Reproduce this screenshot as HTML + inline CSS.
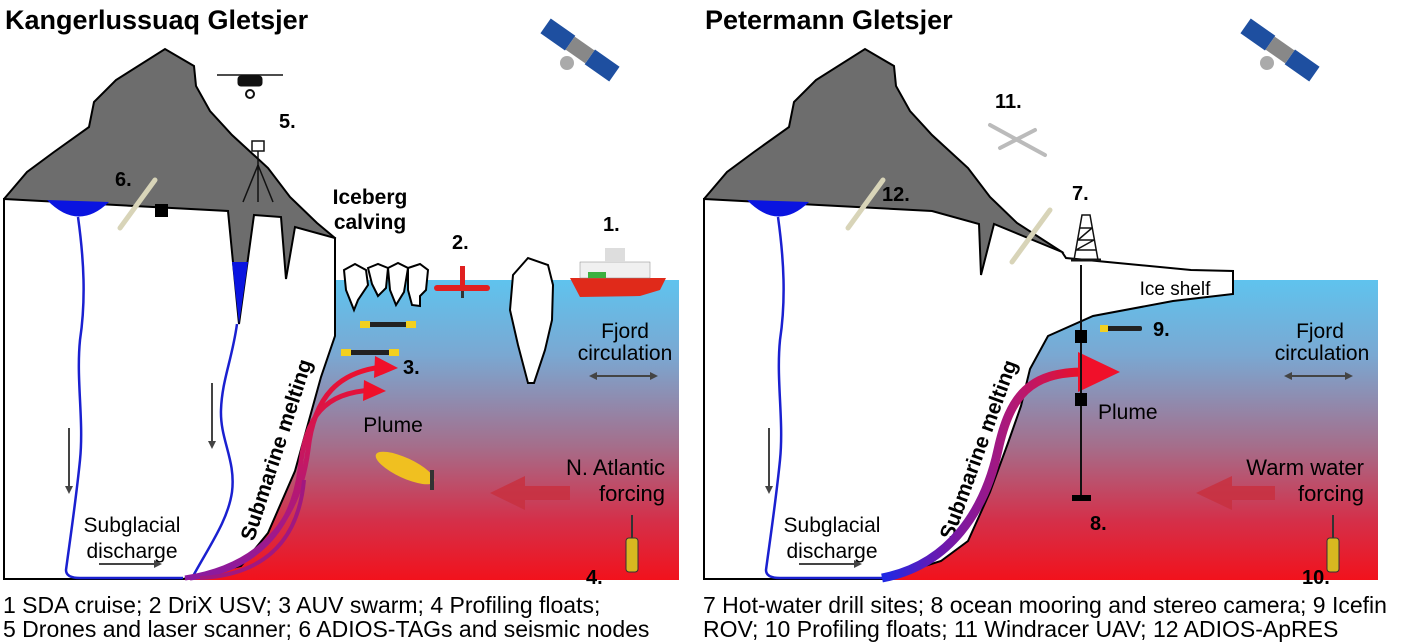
<!DOCTYPE html>
<html><head><meta charset="utf-8"><style>
html,body{margin:0;padding:0;background:#fff;}
svg{display:block;font-family:"Liberation Sans",Arial,sans-serif;}
</style></head><body>
<svg width="1403" height="643" viewBox="0 0 1403 643" xmlns="http://www.w3.org/2000/svg">
<defs>
<linearGradient id="water" x1="0" y1="280" x2="0" y2="580" gradientUnits="userSpaceOnUse">
<stop offset="0" stop-color="#5fc3ee"/><stop offset="0.25" stop-color="#7aa8d2"/>
<stop offset="0.55" stop-color="#a46f8c"/><stop offset="0.8" stop-color="#d4304a"/><stop offset="1" stop-color="#f2121c"/>
</linearGradient>
<linearGradient id="plL" x1="0" y1="578" x2="0" y2="360" gradientUnits="userSpaceOnUse">
<stop offset="0" stop-color="#8a1aa0"/><stop offset="0.5" stop-color="#c01868"/><stop offset="1" stop-color="#f0102a"/>
</linearGradient>
<linearGradient id="plR" x1="880" y1="0" x2="1080" y2="0" gradientUnits="userSpaceOnUse">
<stop offset="0" stop-color="#1a2ae8"/><stop offset="0.3" stop-color="#6a18b0"/><stop offset="0.7" stop-color="#b81870"/><stop offset="1" stop-color="#e8102a"/>
</linearGradient>
<marker id="ah" markerWidth="8" markerHeight="8" refX="6" refY="4" orient="auto" markerUnits="userSpaceOnUse"><path d="M0,0 L8,4 L0,8 Z" fill="#444"/></marker>
</defs>

<!-- ================= LEFT ================= -->
<text x="5" y="29" font-size="27" font-weight="bold">Kangerlussuaq Gletsjer</text>
<rect x="180" y="280" width="499" height="300" fill="url(#water)"/>
<polygon points="4,199 27,172 54,152 89,127 94,102 116,80 165,49 194,66 196,86 210,111 232,135 268,168 290,197 317,223 335,238 290,300 239,330 4,210" fill="#6d6d6d" stroke="#000" stroke-width="2"/>
<polygon points="4,199 228,211 239,324 254,215 281,217 286,279 295,227 335,238 335,336 321,377 295,471 268,533 241,566 183,579 4,579" fill="#fff" stroke="#000" stroke-width="2"/>
<polygon points="232,262 248,262 239,324" fill="#0a14e0"/>
<path d="M47,200 Q78,232 109,202 Z" fill="#0a14e0"/>
<path d="M78,217 C84,260 86,300 80,340 C76,380 84,420 80,460 C76,500 70,540 66,570 Q66,578 80,578 L183,578" fill="none" stroke="#1a20d0" stroke-width="2.5"/>
<path d="M237,324 C232,360 222,380 221,410 C220,440 236,460 232,492 C228,520 210,545 192,578" fill="none" stroke="#1a20d0" stroke-width="2.5"/>
<line x1="69" y1="428" x2="69" y2="492" stroke="#444" stroke-width="2" marker-end="url(#ah)"/>
<line x1="212" y1="383" x2="212" y2="447" stroke="#444" stroke-width="2" marker-end="url(#ah)"/>
<text x="132" y="532" font-size="21" text-anchor="middle">Subglacial</text>
<text x="132" y="558" font-size="21" text-anchor="middle">discharge</text>
<line x1="99" y1="564" x2="160" y2="564" stroke="#444" stroke-width="2" marker-end="url(#ah)"/>
<text x="0" y="0" font-size="21" font-weight="bold" transform="translate(283,452) rotate(-72)" text-anchor="middle">Submarine melting</text>
<rect x="155" y="204" width="13" height="13" fill="#000"/>
<path d="M185,578 C270,565 300,510 308,450 C314,395 340,372 382,367" fill="none" stroke="url(#plL)" stroke-width="5"/>
<path d="M190,578 C255,570 292,530 300,470 C305,415 325,393 372,390" fill="none" stroke="url(#plL)" stroke-width="5"/>
<path d="M200,578 C260,575 298,545 304,480" fill="none" stroke="#a01880" stroke-width="4"/>
<polygon points="375,356 398,368 374,378" fill="#f0102a"/>
<polygon points="364,380 386,391 363,401" fill="#f0102a"/>
<text x="393" y="432" font-size="21" text-anchor="middle">Plume</text>
<g fill="#fff" stroke="#000" stroke-width="2">
<path d="M344,270 L355,264 L366,270 L368,285 L358,300 L354,310 L346,290 Z"/>
<path d="M368,268 L378,264 L388,268 L386,288 L378,296 L372,284 Z"/>
<path d="M388,268 L398,263 L408,268 L404,292 L396,305 L390,290 Z"/>
<path d="M408,268 L420,264 L428,270 L426,290 L420,296 L420,306 L412,305 L408,290 Z"/>
<path d="M513,275 L528,258 L548,265 L553,285 L552,320 L545,350 L534,383 L528,383 L518,345 L510,310 Z"/>
</g>
<rect x="434" y="285" width="56" height="6" rx="3" fill="#e02020"/>
<rect x="460" y="266" width="5" height="20" fill="#e02020"/>
<rect x="461" y="291" width="3" height="7" fill="#333"/>
<path d="M570,278 L666,278 L660,290 L640,296 L580,297 Z" fill="#e02a1a"/>
<rect x="580" y="262" width="70" height="16" fill="#f0f0f0" stroke="#888" stroke-width="0.5"/>
<rect x="605" y="248" width="20" height="14" fill="#ddd"/>
<rect x="588" y="272" width="18" height="6" fill="#3cb040"/>
<rect x="360" y="322" width="56" height="5" rx="2" fill="#222"/><rect x="360" y="321" width="10" height="7" fill="#f2d020"/><rect x="406" y="321" width="10" height="7" fill="#f2d020"/>
<rect x="341" y="350" width="58" height="5" rx="2" fill="#222"/><rect x="341" y="349" width="10" height="7" fill="#f2d020"/><rect x="389" y="349" width="10" height="7" fill="#f2d020"/>
<text x="403" y="374" font-size="20" font-weight="bold">3.</text>
<ellipse cx="405" cy="468" rx="32" ry="10" fill="#f0c020" transform="rotate(25 405 468)"/>
<rect x="430" y="470" width="4" height="20" fill="#333"/>
<text x="625" y="338" font-size="21" text-anchor="middle">Fjord</text>
<text x="625" y="360" font-size="21" text-anchor="middle">circulation</text>
<line x1="597" y1="376" x2="656" y2="376" stroke="#444" stroke-width="2" marker-end="url(#ah)"/>
<polygon points="597,372 589,376 597,380" fill="#444"/>
<text x="665" y="475" font-size="22" text-anchor="end">N. Atlantic</text>
<text x="665" y="501" font-size="22" text-anchor="end">forcing</text>
<polygon points="570,486 525,486 525,476 490,493 525,510 525,500 570,500" fill="#c83040" opacity="0.85"/>
<rect x="626" y="538" width="12" height="34" rx="3" fill="#d8b820" stroke="#333"/>
<line x1="632" y1="515" x2="632" y2="538" stroke="#333" stroke-width="2"/>
<text x="586" y="584" font-size="20" font-weight="bold">4.</text>
<text x="452" y="249" font-size="20" font-weight="bold">2.</text>
<text x="603" y="231" font-size="20" font-weight="bold">1.</text>
<text x="370" y="204" font-size="21" font-weight="bold" text-anchor="middle">Iceberg</text>
<text x="370" y="229" font-size="21" font-weight="bold" text-anchor="middle">calving</text>
<text x="279" y="128" font-size="20" font-weight="bold">5.</text>
<text x="115" y="186" font-size="20" font-weight="bold">6.</text>
<g stroke="#111" fill="#111">
<line x1="217" y1="75" x2="283" y2="75" stroke-width="1.5"/>
<rect x="238" y="76" width="24" height="10" rx="3"/>
<circle cx="250" cy="94" r="4" fill="#fff" stroke-width="2"/>
</g>
<g stroke="#111" fill="none" stroke-width="1.5">
<rect x="252" y="141" width="12" height="10" fill="#fff"/>
<line x1="258" y1="151" x2="258" y2="170"/><line x1="258" y1="165" x2="243" y2="202"/><line x1="258" y1="165" x2="273" y2="202"/><line x1="258" y1="165" x2="258" y2="202"/>
</g>
<line x1="120" y1="228" x2="155" y2="180" stroke="#d8d4b8" stroke-width="5" stroke-linecap="round"/>
<g transform="translate(580,50) rotate(35)">
<rect x="-42" y="-9" width="30" height="18" fill="#1e4fa0"/><rect x="12" y="-9" width="30" height="18" fill="#1e4fa0"/>
<rect x="-12" y="-8" width="24" height="16" fill="#888"/>
</g>
<circle cx="567" cy="63" r="7" fill="#aaa"/>

<!-- ================= RIGHT ================= -->
<text x="705" y="29" font-size="27" font-weight="bold">Petermann Gletsjer</text>
<rect x="880" y="280" width="498" height="300" fill="url(#water)"/>
<polygon points="704,199 727,172 754,152 789,127 794,102 816,80 865,49 894,66 896,86 910,111 932,135 968,168 990,197 1017,223 1062,252 1000,270 980,274 704,210" fill="#6d6d6d" stroke="#000" stroke-width="2"/>
<polygon points="704,199 932,211 979,224 981,275 994,224 1062,252 1066,258 1191,270 1233,271 1233,294 1173,301 1093,316 1048,336 1030,369 1021,406 1008,443 990,492 968,541 941,561 883,579 704,579" fill="#fff" stroke="#000" stroke-width="2"/>
<path d="M747,200 Q778,232 809,202 Z" fill="#0a14e0"/>
<path d="M778,217 C784,260 786,300 780,340 C776,380 784,420 780,460 C776,500 770,540 766,570 Q766,578 780,578 L890,578" fill="none" stroke="#1a20d0" stroke-width="2.5"/>
<line x1="769" y1="428" x2="769" y2="492" stroke="#444" stroke-width="2" marker-end="url(#ah)"/>
<text x="832" y="532" font-size="21" text-anchor="middle">Subglacial</text>
<text x="832" y="558" font-size="21" text-anchor="middle">discharge</text>
<line x1="799" y1="564" x2="860" y2="564" stroke="#444" stroke-width="2" marker-end="url(#ah)"/>
<text x="0" y="0" font-size="21" font-weight="bold" transform="translate(985,452) rotate(-70)" text-anchor="middle">Submarine melting</text>
<path d="M882,578 C950,565 985,510 998,450 C1010,395 1030,372 1085,372" fill="none" stroke="url(#plR)" stroke-width="9"/>
<polygon points="1078,352 1120,372 1078,392" fill="#f0102a"/>
<line x1="1081" y1="265" x2="1081" y2="498" stroke="#111" stroke-width="2"/>
<rect x="1075" y="330" width="12" height="13" fill="#000"/>
<rect x="1075" y="393" width="12" height="13" fill="#000"/>
<rect x="1072" y="495" width="19" height="6" fill="#000"/>
<text x="1090" y="530" font-size="20" font-weight="bold">8.</text>
<text x="1098" y="419" font-size="21">Plume</text>
<text x="1175" y="295" font-size="19" text-anchor="middle">Ice shelf</text>
<rect x="1100" y="326" width="42" height="5" rx="2" fill="#222"/><rect x="1100" y="325" width="8" height="7" fill="#f2d020"/>
<text x="1153" y="336" font-size="20" font-weight="bold">9.</text>
<text x="1320" y="338" font-size="21" text-anchor="middle">Fjord</text>
<text x="1322" y="360" font-size="21" text-anchor="middle">circulation</text>
<line x1="1292" y1="376" x2="1351" y2="376" stroke="#444" stroke-width="2" marker-end="url(#ah)"/>
<polygon points="1292,372 1284,376 1292,380" fill="#444"/>
<text x="1364" y="475" font-size="22" text-anchor="end">Warm water</text>
<text x="1364" y="501" font-size="22" text-anchor="end">forcing</text>
<polygon points="1275,486 1232,486 1232,476 1196,493 1232,510 1232,500 1275,500" fill="#c83040" opacity="0.85"/>
<rect x="1327" y="538" width="12" height="34" rx="3" fill="#d8b820" stroke="#333"/>
<line x1="1333" y1="515" x2="1333" y2="538" stroke="#333" stroke-width="2"/>
<text x="1302" y="584" font-size="20" font-weight="bold">10.</text>
<g stroke="#111" stroke-width="1.5" fill="none">
<path d="M1074,260 L1082,215 L1090,215 L1098,260"/>
<line x1="1071" y1="260" x2="1101" y2="260" stroke-width="3"/>
<path d="M1078,240 L1094,240 M1076,250 L1096,250 M1080,228 L1092,228 M1078,240 L1092,228 M1076,250 L1094,240"/>
</g>
<text x="1072" y="200" font-size="20" font-weight="bold">7.</text>
<text x="995" y="108" font-size="20" font-weight="bold">11.</text>
<text x="882" y="201" font-size="20" font-weight="bold">12.</text>
<g stroke="#bbb" stroke-width="4" stroke-linecap="round">
<line x1="990" y1="125" x2="1045" y2="155"/><line x1="1000" y1="148" x2="1035" y2="130"/>
</g>
<line x1="848" y1="228" x2="883" y2="180" stroke="#d8d4b8" stroke-width="5" stroke-linecap="round"/>
<line x1="1012" y1="262" x2="1050" y2="210" stroke="#d8d4b8" stroke-width="5" stroke-linecap="round"/>
<g transform="translate(1280,50) rotate(35)">
<rect x="-42" y="-9" width="30" height="18" fill="#1e4fa0"/><rect x="12" y="-9" width="30" height="18" fill="#1e4fa0"/>
<rect x="-12" y="-8" width="24" height="16" fill="#888"/>
</g>
<circle cx="1267" cy="63" r="7" fill="#aaa"/>

<g font-size="23">
<text x="3" y="613">1 SDA cruise; 2 DriX USV; 3 AUV swarm; 4 Profiling floats;</text>
<text x="3" y="637">5 Drones and laser scanner; 6 ADIOS-TAGs and seismic nodes</text>
<text x="703" y="613">7 Hot-water drill sites; 8 ocean mooring and stereo camera; 9 Icefin</text>
<text x="703" y="637">ROV; 10 Profiling floats; 11 Windracer UAV; 12 ADIOS-ApRES</text>
</g>
</svg>
</body></html>
